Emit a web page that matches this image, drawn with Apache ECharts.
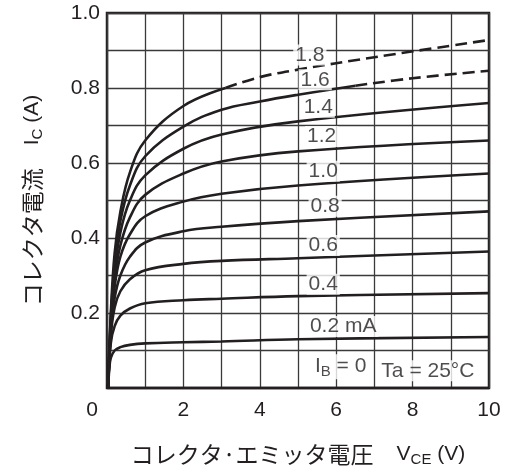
<!DOCTYPE html>
<html>
<head>
<meta charset="utf-8">
<script src="https://cdn.jsdelivr.net/npm/echarts@6/dist/echarts.min.js"></script>
<style>
    html, body {margin: 0; padding: 0; background: #fff;}
    #main {width: 509px; height: 472px;}
</style>
</head>
<body>
<div id="main"></div>
<script>
// Ic - Vce 特性, [Vce (V), Ic (A)] for each base current
const ib0 = [[0, 0], [10, 0]]
const ib02 = [[0.03, 0], [0.06, 0.05], [0.1, 0.08], [0.2, 0.1], [0.35, 0.109], [0.6, 0.115], [1, 0.119], [2, 0.122], [3, 0.124], [5, 0.13], [10, 0.136]]
const ib04 = [[0.03, 0], [0.1, 0.12], [0.2, 0.165], [0.35, 0.193], [0.6, 0.212], [1, 0.226], [2, 0.234], [3, 0.238], [5, 0.245], [10, 0.253]]
const ib06 = [[0.03, 0], [0.1, 0.14], [0.2, 0.215], [0.35, 0.258], [0.6, 0.29], [1, 0.314], [2, 0.331], [3, 0.339], [5, 0.346], [10, 0.364]]
const ib08 = [[0.03, 0], [0.1, 0.15], [0.2, 0.24], [0.35, 0.3], [0.6, 0.35], [1, 0.388], [2, 0.418], [3, 0.43], [5, 0.445], [10, 0.471]]
const ib10 = [[0.03, 0], [0.1, 0.16], [0.2, 0.27], [0.35, 0.35], [0.6, 0.41], [1, 0.458], [2, 0.497], [3, 0.518], [5, 0.54], [10, 0.572]]
const ib12 = [[0.03, 0], [0.1, 0.17], [0.2, 0.29], [0.35, 0.38], [0.6, 0.455], [1, 0.515], [2, 0.572], [3, 0.604], [5, 0.631], [10, 0.66]]
const ib14 = [[0.03, 0], [0.1, 0.18], [0.2, 0.31], [0.35, 0.415], [0.6, 0.5], [1, 0.567], [2, 0.638], [3, 0.676], [5, 0.711], [10, 0.76]]
const ib16 = [[0.03, 0], [0.1, 0.19], [0.2, 0.33], [0.35, 0.445], [0.6, 0.54], [1, 0.618], [2, 0.697], [3, 0.742], [4, 0.764], [5, 0.782], [6.5, 0.806]]
const ib16Dash = [[6.5, 0.806], [8, 0.826], [10, 0.846]]
const ib18 = [[0.03, 0], [0.1, 0.2], [0.2, 0.36], [0.35, 0.47], [0.6, 0.575], [1, 0.66], [2, 0.752], [3.1, 0.8]]
const ib18Dash = [[3.1, 0.8], [4, 0.829], [5, 0.849], [7, 0.882], [10, 0.928]]

// 曲線ラベル
const labelText = ['1.8', '1.6', '1.4', '1.2', '1.0', '0.8', '0.6', '0.4']
const labelAt = [[5.31, 0.888], [5.45, 0.822], [5.53, 0.749], [5.62, 0.671], [5.66, 0.578], [5.71, 0.485], [5.66, 0.38], [5.66, 0.277]]

const INK = '#231f20'
const FONT = 'Liberation Sans, Arial, sans-serif'
const CJK = 'Noto Sans CJK JP, sans-serif'

const solid = [ib0, ib02, ib04, ib06, ib08, ib10, ib12, ib14, ib16, ib18]
const dashed = [ib16Dash, ib18Dash]

const series = []
solid.forEach(d => {
    series.push({
        type: 'line', data: d, symbol: 'none', smooth: 0.4,
        lineStyle: {color: INK, width: 2.6}, z: 3
    })
})
dashed.forEach(d => {
    series.push({
        type: 'line', data: d, symbol: 'none', smooth: 0.4,
        lineStyle: {color: INK, width: 2.6, type: [12, 6]}, z: 3
    })
})

const textBox = {color: INK, fontSize: 21, fontFamily: FONT, backgroundColor: '#fff', padding: [0, 2]}
const labelData = labelText.map((t, i) => ({
    value: labelAt[i],
    label: {formatter: t}
}))
labelData.push({value: [5.26, 0.164], label: {formatter: '0.2 mA', align: 'left'}})
labelData.push({
    value: [5.39, 0.057],
    label: {
        formatter: '{m|I}{s|B}{m| = 0}', align: 'left',
        rich: {m: {fontSize: 21, fontFamily: FONT, color: INK}, s: {fontSize: 15, fontFamily: FONT, color: INK, padding: [10, 0, 0, 0]}}
    }
})
labelData.push({value: [8.4, 0.046], label: {formatter: 'Ta = 25°C'}})
series.push({
    type: 'scatter', data: labelData, symbolSize: 0, z: 5, silent: true,
    label: Object.assign({show: true, position: 'inside'}, textBox)
})

const nameRich = {
    j: {fontSize: 23, fontFamily: CJK, color: INK},
    t: {fontSize: 21, fontFamily: FONT, color: INK},
    s: {fontSize: 15, fontFamily: FONT, color: INK, padding: [10, 0, 0, 0]}
}

const option = {
    animation: false,
    backgroundColor: '#fff',
    grid: {left: 107, right: 20, top: 13, bottom: 83, show: true, borderColor: INK, borderWidth: 2.5},
    xAxis: {
        type: 'value', min: 0, max: 10, interval: 1,
        name: '{j|コレクタ·エミッタ電圧\u3000}{t|V}{s|CE}{t| (V)}',
        nameLocation: 'middle', nameGap: 54,
        nameTextStyle: {rich: nameRich},
        axisLine: {show: false}, axisTick: {show: false},
        splitLine: {lineStyle: {color: '#3a3a3a', width: 1.3}},
        axisLabel: {
            margin: 12, color: INK, fontSize: 21, fontFamily: FONT,
            formatter: v => v === 0 ? '{z|0}' : (v % 2 === 0 ? String(v) : ''),
            rich: {z: {fontSize: 21, fontFamily: FONT, color: INK, padding: [0, 30, 0, 0]}}
        }
    },
    yAxis: {
        type: 'value', min: 0, max: 1, interval: 0.1,
        name: '{j|コレクタ電流\u3000}{t|I}{s|C}{t| (A)}',
        nameLocation: 'middle', nameGap: 62,
        nameTextStyle: {rich: nameRich},
        axisLine: {show: false}, axisTick: {show: false},
        splitLine: {lineStyle: {color: '#3a3a3a', width: 1.3}},
        axisLabel: {
            margin: 7, color: INK, fontSize: 21, fontFamily: FONT,
            formatter: v => (v > 0.01 && Math.round(v * 10) % 2 === 0) ? v.toFixed(1) : ''
        }
    },
    series: series
}

var chartDom = document.getElementById('main')
var myChart = echarts.init(chartDom)
myChart.setOption(option)
</script>
</body>
</html>
